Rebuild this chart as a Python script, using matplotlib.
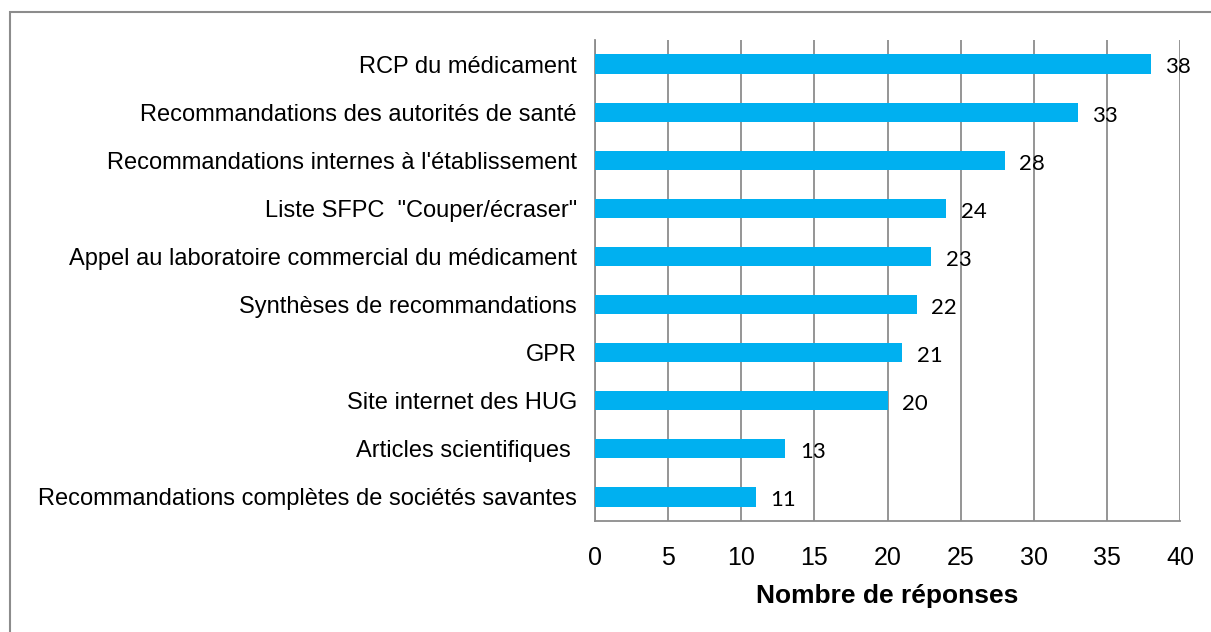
import matplotlib
matplotlib.use("Agg")
import matplotlib.pyplot as plt
from matplotlib.patches import Rectangle

# Data (top to bottom as shown)
categories = [
    "RCP du médicament",
    "Recommandations des autorités de santé",
    "Recommandations internes à l'établissement",
    "Liste SFPC  \"Couper/écraser\"",
    "Appel au laboratoire commercial du médicament",
    "Synthèses de recommandations",
    "GPR",
    "Site internet des HUG",
    "Articles scientifiques ",
    "Recommandations complètes de sociétés savantes",
]
values = [38, 33, 28, 24, 23, 22, 21, 20, 13, 11]
xticks = [0, 5, 10, 15, 20, 25, 30, 35, 40]

plt.rcParams['font.family'] = ['Liberation Sans', 'DejaVu Sans']

fig = plt.figure(figsize=(12.11, 6.32), dpi=100)
ax = fig.add_axes([595 / 1211, 1 - 521 / 632, (1180 - 595) / 1211, (521 - 40) / 632])

# outer chart border
fig.patches.append(Rectangle((10 / 1211, -0.01), 1.0, 1 - 12 / 632 + 0.01,
                             transform=fig.transFigure, fill=False,
                             edgecolor='#8c8c8c', linewidth=1.5))

ypos = list(range(len(categories)))
ax.barh(ypos, values, height=0.4, color='#00B0F0', zorder=3)

for y, v in zip(ypos, values):
    ax.text(v + 1.0, y + 0.07, str(v), va='center', ha='left',
            fontsize=16, family=['Lato', 'DejaVu Sans'], zorder=4)

ax.set_ylim(len(categories) - 0.5, -0.5)
ax.set_xlim(0, 40)
ax.set_xticks(xticks)
ax.set_yticks(ypos)
ax.set_yticklabels(categories, fontsize=17)
ax.tick_params(axis='y', length=0, pad=13)
ax.tick_params(axis='x', length=0, pad=18, labelsize=18)

ax.grid(axis='x', color='#8c8c8c', linewidth=1.3, zorder=0)
for side in ['top', 'right']:
    ax.spines[side].set_visible(False)
for side in ['left', 'bottom']:
    ax.spines[side].set_color('#8c8c8c')
    ax.spines[side].set_linewidth(1.3)

ax.set_xlabel("Nombre de réponses", fontsize=19, fontweight='bold', labelpad=10)

fig.savefig("out.png", dpi=100)
